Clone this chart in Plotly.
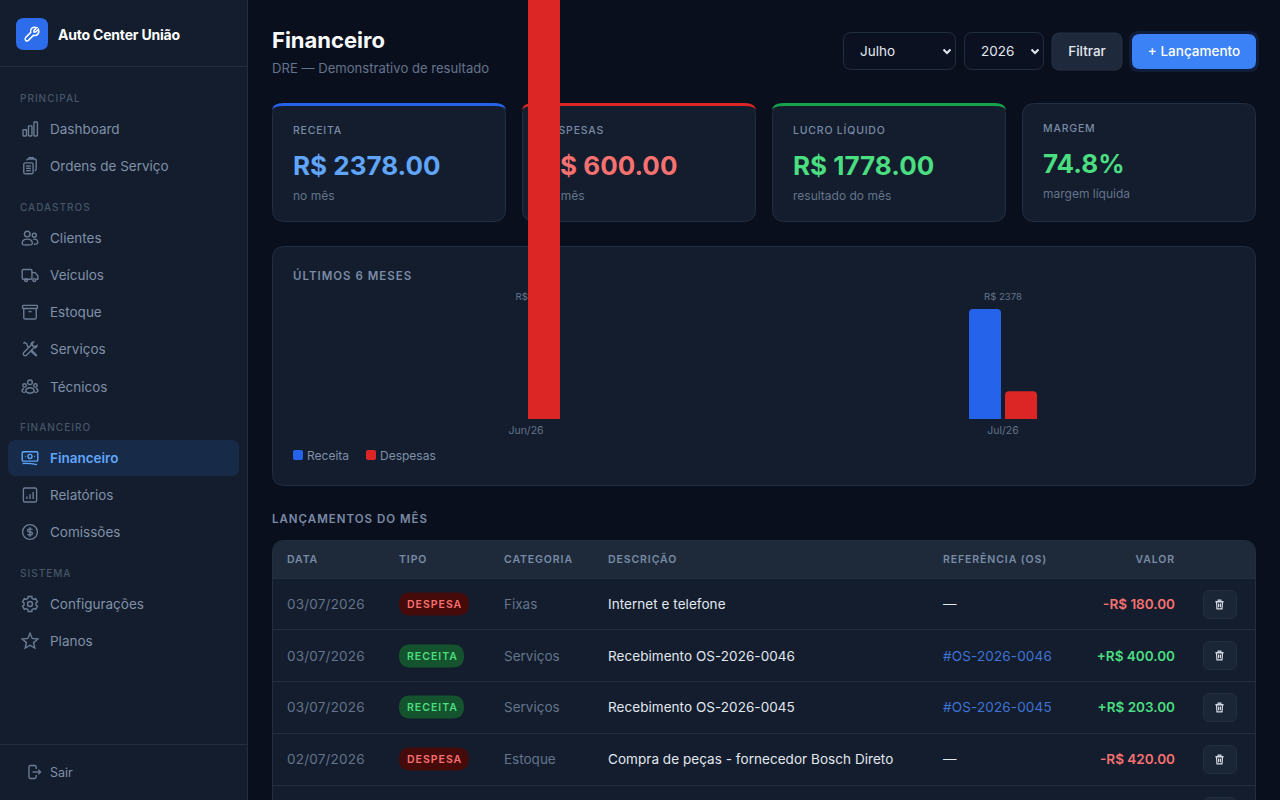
import math
import re
import plotly.graph_objects as go

# dados do grafico
meses = ["Jun/26", "Jul/26"]
receita = [0, 2378]
despesas = [9800, 600]

# cards
card_labels = ["RECEITA", "DESPESAS", "LUCRO LÍQUIDO", "MARGEM"]
card_values = ["R$ 2378.00", "R$ 600.00", "R$ 1778.00", "74.8%"]
card_notes = ["no mês", "no mês", "resultado do mês", "margem líquida"]

# tabela
colunas = ["DATA", "TIPO", "CATEGORIA", "DESCRIÇÃO", "REFERÊNCIA (OS)"]
datas = ["03/07/2026", "03/07/2026", "03/07/2026", "02/07/2026"]
tipos = ["DESPESA", "RECEITA", "RECEITA", "DESPESA"]
categorias = ["Fixas", "Serviços", "Serviços", "Estoque"]
descricoes = ["Internet e telefone", "Recebimento OS-2026-0046", "Recebimento OS-2026-0045",
              "Compra de peças - fornecedor Bosch Direto"]
referencias = ["—", "#OS-2026-0046", "#OS-2026-0045", "—"]
valores = ["-R$ 180.00", "+R$ 400.00", "+R$ 203.00", "-R$ 420.00"]

# menu lateral
menu_secoes = ["PRINCIPAL", "CADASTROS", "FINANCEIRO", "SISTEMA"]
menu_itens = ["Dashboard", "Ordens de Serviço", "Clientes", "Veículos", "Estoque", "Serviços",
              "Técnicos", "Financeiro", "Relatórios", "Comissões", "Configurações", "Planos"]

# cores
BG = "#0a0f1e"
CARD = "#131d2d"
BORDER = "#222e41"
MUTED = "#64748b"
SIDE_TXT = "#8090a8"
BLUE = "#2563eb"
RED = "#dc2626"
GREEN_TXT = "#4ade80"
RED_TXT = "#f87171"
BLUE_TXT = "#60a5fa"
FONT = "Inter"

shapes = []
textos = []


def rrect(x0, y0, x1, y1, r):
    return (f"M{x0+r} {y0} L{x1-r} {y0} Q{x1} {y0} {x1} {y0+r} L{x1} {y1-r} Q{x1} {y1} {x1-r} {y1} "
            f"L{x0+r} {y1} Q{x0} {y1} {x0} {y1-r} L{x0} {y0+r} Q{x0} {y0} {x0+r} {y0} Z")


def circ(cx, cy, r):
    k = 0.5523 * r
    return (f"M{cx-r} {cy} C{cx-r} {cy-k} {cx-k} {cy-r} {cx} {cy-r} C{cx+k} {cy-r} {cx+r} {cy-k} {cx+r} {cy} "
            f"C{cx+r} {cy+k} {cx+k} {cy+r} {cx} {cy+r} C{cx-k} {cy+r} {cx-r} {cy+k} {cx-r} {cy} Z")


def box(x0, y0, x1, y1, r=0, fill=None, line=None, width=1):
    shapes.append(dict(type="path", path=rrect(x0, y0, x1, y1, r), xref="x", yref="y", layer="below",
                       fillcolor=fill or "rgba(0,0,0,0)",
                       line=dict(color=line or "rgba(0,0,0,0)", width=width if line else 0)))


def hline(x0, x1, y, color=BORDER):
    shapes.append(dict(type="line", x0=x0, x1=x1, y0=y, y1=y, xref="x", yref="y", layer="below",
                       line=dict(color=color, width=1)))


def txt(x, y, s, size=13.5, color="#e2e8f0", weight=400, pos="middle right", spacing=0, family=FONT):
    if spacing:
        s = f'<span style="letter-spacing:{spacing}px">{s}</span>'
    # o texto do plotly fica um pouco acima do centro
    textos.append(go.Scatter(x=[x], y=[y + 0.11 * size], text=[s], mode="text", textposition=pos, hoverinfo="skip",
                             textfont=dict(family=family, size=size, color=color, weight=weight),
                             xaxis="x", yaxis="y", showlegend=False))


def icon(partes, cx, cy, color, scale=0.78, width=1.4, fill=None):
    # desenha os caminhos em grade 24x24 centrados em cx, cy
    def conv(path):
        toks = re.findall(r"[A-Za-z]|-?\d+\.?\d*", path)
        out = []
        i = 0
        for t in toks:
            if t.isalpha():
                out.append(t)
                i = 0
            else:
                base = cx if i % 2 == 0 else cy
                out.append(f"{base + (float(t) - 12) * scale:.2f}")
                i += 1
        return " ".join(out)
    for p in partes:
        shapes.append(dict(type="path", path=conv(p), xref="x", yref="y", layer="below",
                           fillcolor=fill or "rgba(0,0,0,0)", line=dict(color=color, width=width)))


def estrela():
    pts = []
    for i in range(10):
        r = 10.5 if i % 2 == 0 else 4.8
        a = -math.pi / 2 + i * math.pi / 5
        pts.append((12 + r * math.cos(a), 12.6 + r * math.sin(a)))
    return "M" + " L".join(f"{x:.2f} {y:.2f}" for x, y in pts) + " Z"


def engrenagem():
    pts = []
    for i in range(6):
        a = i * math.pi / 3 - math.pi / 2
        for da, r in [(-0.34, 7.8), (-0.24, 10), (0.24, 10), (0.34, 7.8)]:
            pts.append((12 + r * math.cos(a + da), 12 + r * math.sin(a + da)))
    return "M" + " L".join(f"{x:.2f} {y:.2f}" for x, y in pts) + " Z"


ICONES = {
    "Dashboard": [rrect(3, 13, 7.5, 21, 1), rrect(10, 8, 14.5, 21, 1), rrect(17, 3, 21.5, 21, 1)],
    "Ordens de Serviço": [rrect(4, 8, 16, 22, 2), "M8 5 Q8 3 10 3 L18 3 Q20 3 20 5 L20 16 Q20 18 18 18",
                          "M11 3 L11 1.5 L16 1.5 L16 3", "M7 12 L13 12", "M7 15 L13 15", "M7 18 L13 18"],
    "Clientes": [circ(8.5, 7, 3.6), circ(17.5, 8.5, 2.6),
                 "M2 19 Q2 13.5 8.5 13.5 Q15 13.5 15 19 Q15 21 8.5 21 Q2 21 2 19 Z",
                 "M16 13.5 Q22 13 22 17.5 Q22 20 17 20"],
    "Veículos": [rrect(2, 5, 14.5, 17.5, 1.5), "M14.5 9 L18.5 9 L22 13 L22 17.5 L20 17.5",
                 circ(7, 18.5, 1.9), circ(17.5, 18.5, 1.9)],
    "Estoque": [rrect(2.5, 3.5, 21.5, 7.5, 1), "M4 7.5 L4 19 Q4 21 6 21 L18 21 Q20 21 20 19 L20 7.5",
                "M10 11.5 L14 11.5"],
    "Serviços": ["M16.5 3 Q13 3.5 13.5 7 L4 16.5 Q2.5 18 4 20 Q6 21.5 7.5 20 L17 10.5 Q20.5 11 21 7.5 L18.5 9 L15.5 8 L15 5.5 Z",
                 "M3.5 5 L5 3.5 L8 5.5 L8.5 8 L11 10.5", "M13.5 13 L20 19.5 Q21 21 19.5 20.5 L13 15"],
    "Técnicos": [circ(12, 6, 3), circ(5, 10, 2.2), circ(19, 10, 2.2),
                 "M6.5 18 Q6.5 13 12 13 Q17.5 13 17.5 18 Q12 22 6.5 18 Z",
                 "M4.5 14 Q1.5 14.5 2 17.5 Q3 19 5.5 19", "M19.5 14 Q22.5 14.5 22 17.5 Q21 19 18.5 19"],
    "Financeiro": [rrect(2, 4, 22, 16, 1.5), circ(12, 10, 2.6), "M2.5 19 Q12 18.5 21 20.5",
                   "M5.5 10 L6.5 10", "M17.5 10 L18.5 10"],
    "Relatórios": [rrect(3.5, 3, 20.5, 21, 2), "M8 17 L8 14", "M12 17 L12 11", "M16 17 L16 8"],
    "Comissões": [circ(12, 12, 9.5), "M12 6 L12 18",
                  "M15 9.5 Q14.5 8 12 8 Q9 8 9 10 Q9 12 12 12 Q15 12 15 14 Q15 16 12 16 Q9.5 16 9 14.5"],
    "Configurações": [engrenagem(), circ(12, 12, 3.2)],
    "Planos": [estrela()],
}
ICONE_SAIR = ["M15 8 L15 5 Q15 3 13 3 L7 3 Q5 3 5 5 L5 19 Q5 21 7 21 L13 21 Q15 21 15 19 L15 16",
              "M10 12 L21 12", "M18 9 L21 12 L18 15"]
ICONE_LOGO = ["M20 6 L16.5 9.5 L14.5 9.5 L14.5 7.5 L18 4 Q14 2.5 11.5 5 Q9.5 7.5 10.5 10 L4 16.5 Q2.5 18.5 4 20 Q5.5 21.5 7.5 20 L14 13.5 Q17 14.5 19 12.5 Q21.5 10 20 6 Z"]
ICONE_LIXO = ["M3 6 L21 6", "M9 6 L9 2.5 L15 2.5 L15 6", "M5.5 6 L6.5 21.5 L17.5 21.5 L18.5 6 Z",
              "M10 10 L10 18", "M14 10 L14 18"]

# --- sidebar ---
box(0, -2, 247, 802, fill=CARD)
shapes.append(dict(type="line", x0=247.5, x1=247.5, y0=0, y1=800, xref="x", yref="y", layer="below",
                   line=dict(color=BORDER, width=1)))
hline(0, 247, 66.5)
hline(0, 247, 744.5)
box(16, 18, 48, 50, 8, fill="#2d6cea")
icon(ICONE_LOGO, 32, 34, "#ffffff", scale=0.8, width=1.5)
txt(58, 35, "Auto Center União", 14, "#ffffff", 700, spacing=-0.2)

for nome, y in zip(menu_secoes, [98, 207, 427, 573]):
    txt(20, y, nome, 10, "#475569", 500, spacing=1)

box(8, 440, 239, 476, 8, fill="#172b49")
for nome, y in zip(menu_itens, [129, 166, 238, 275, 312, 349, 387, 458, 495, 532, 604, 641]):
    ativo = nome == "Financeiro"
    cor = BLUE_TXT if ativo else SIDE_TXT
    icon(ICONES[nome], 30, y, BLUE_TXT if ativo else "#6b7b93")
    txt(50, y, nome, 13.5, cor, 600 if ativo else 400)
icon(ICONE_SAIR, 34, 772, "#6b7b93", scale=0.72)
txt(50, 772, "Sair", 12.5, SIDE_TXT)

# --- cabecalho ---
txt(272, 40, "Financeiro", 22, "#f8fafc", 700)
txt(272, 68, "DRE — Demonstrativo de resultado", 13.1, MUTED)

box(843.5, 32.5, 955.5, 69.5, 8, fill="#0b1120", line=BORDER)
box(964.5, 32.5, 1043.5, 69.5, 8, fill="#0b1120", line=BORDER)
txt(860, 51, "Julho", 13.5, "#e2e8f0")
txt(981, 51, "2026", 13.5, "#e2e8f0")
for cx in (947, 1035):
    shapes.append(dict(type="path", path=f"M{cx-3.5} 49.5 L{cx} 53 L{cx+3.5} 49.5", xref="x", yref="y",
                       layer="below", line=dict(color="#e2e8f0", width=2)))
box(1052, 33, 1122, 70, 8, fill="#1e293b", line="#263347")
txt(1087, 51, "Filtrar", 13.5, "#e2e8f0", 500, pos="middle center")
box(1129, 31, 1259, 72, 10, fill="rgba(59,130,246,0.14)")
box(1132, 34, 1256, 69, 8, fill="#3b82f6")
txt(1194, 51, "+ Lançamento", 13.5, "#ffffff", 500, pos="middle center")

# --- cards ---
card_x = [273, 523, 773, 1023]
card_topo = [BLUE, RED, "#16a34a", None]
card_cor = [BLUE_TXT, RED_TXT, GREEN_TXT, GREEN_TXT]
for i, x in enumerate(card_x):
    box(x - 0.5, 103.5, x + 232.5, 221.5, 12, fill=CARD, line=BORDER)
    dy = 0
    if card_topo[i]:
        x0, x1 = x - 1, x + 233
        shapes.append(dict(type="path", xref="x", yref="y", layer="below", fillcolor=card_topo[i],
                           line=dict(width=0),
                           path=f"M{x0} 111 Q{x0} 103 {x0+12} 103 L{x1-12} 103 Q{x1} 103 {x1} 111 "
                                f"Q{x1} 106 {x1-12} 106 L{x0+12} 106 Q{x0} 106 {x0} 111 Z"))
    else:
        dy = -2
    txt(x + 20, 130 + dy, card_labels[i], 10.5, "#7a8ba5", 500, spacing=0.8)
    txt(x + 20, 166 + dy, card_values[i], 26, card_cor[i], 700)
    txt(x + 20, 196 + dy, card_notes[i], 12, MUTED)

# --- card do grafico ---
box(272.5, 246.5, 1255.5, 485.5, 12, fill=CARD, line=BORDER)
txt(293, 276, "ÚLTIMOS 6 MESES", 11.5, "#7a8ba5", 600, spacing=1)
box(293, 450, 303, 460, 2, fill=BLUE)
txt(307, 455.5, "Receita", 12, SIDE_TXT)
box(366, 450, 376, 460, 2, fill=RED)
txt(380, 455.5, "Despesas", 12, SIDE_TXT)

# --- tabela ---
txt(272, 519, "LANÇAMENTOS DO MÊS", 11.5, "#7a8ba5", 600, spacing=1)
box(272.5, 540.5, 1255.5, 830, 12, fill=CARD, line=BORDER)
shapes.append(dict(type="path", xref="x", yref="y", layer="below", fillcolor="#1e2a3a", line=dict(width=0),
                   path="M273 578 L273 553 Q273 541 285 541 L1243 541 Q1255 541 1255 553 L1255 578 Z"))
for y in (578.5, 629.5, 681.5, 733.5, 785.5):
    hline(273, 1255, y)
for nome, x in zip(colunas, [287, 399, 504, 608, 943]):
    txt(x, 559, nome, 10.5, "#7a8ba5", 600, spacing=0.9)
txt(1175, 559, "VALOR", 10.5, "#7a8ba5", 600, pos="middle left", spacing=0.9)

linhas_y = [604, 656, 707, 759]
botoes_y = [590, 641, 693, 745, 797]
for i, y in enumerate(linhas_y):
    despesa = tipos[i] == "DESPESA"
    txt(287, y, datas[i], 13.5, MUTED, spacing=0.2)
    bw = 70 if despesa else 65
    box(399, y - 11.5, 399 + bw, y + 11.5, 11.5, fill="#450a0a" if despesa else "#14532d")
    txt(407, y, tipos[i], 10.5, RED_TXT if despesa else GREEN_TXT, 600, spacing=1)
    txt(504, y, categorias[i], 13.5, MUTED)
    txt(608, y, descricoes[i], 13.5, spacing=0.05)
    link = referencias[i].startswith("#")
    txt(943, y, referencias[i], 13.5, "#3f74d8" if link else "#e2e8f0", spacing=0.15 if link else 0)
    txt(1175, y, valores[i], 13.5, RED_TXT if despesa else GREEN_TXT, 600, pos="middle left")
for y in botoes_y:
    box(1203.5, y + 0.5, 1236.5, y + 28.5, 6, fill="#1a2535", line="#222e41")
    icon(ICONE_LIXO, 1219.5, y + 14.5, "#d5dbe5", scale=0.46, width=1.2)

# --- barras ---
# jul/26 receita vai de y=419 ate y=309 na tela
base_px, topo_px = 419, 309
centro_jun, centro_jul = 526, 1003
passo = centro_jul - centro_jun
x_dom = [(centro_jun - passo / 2) / 1280, (centro_jul + passo / 2) / 1280]
eixo_max = receita[1]
px_valor = eixo_max / (base_px - topo_px)

barras = [
    go.Bar(x=meses, y=receita, name="Receita", marker=dict(color=BLUE, cornerradius=4, line_width=0),
           xaxis="x3", yaxis="y3", hoverinfo="skip"),
    go.Bar(x=meses, y=despesas, name="Despesas", marker=dict(color=RED, cornerradius=4, line_width=0),
           xaxis="x3", yaxis="y3", hoverinfo="skip"),
]
# rotulos ficam numa camada abaixo das barras
rotulo_y = px_valor * (base_px - 298)
rotulos = go.Scatter(x=meses, y=[rotulo_y] * len(meses), text=[f"R$ {v}" for v in receita], mode="text",
                     textposition="middle center", hoverinfo="skip", xaxis="x2", yaxis="y2",
                     textfont=dict(family=FONT, size=9.6, color=MUTED), showlegend=False)

fig = go.Figure(data=textos + [rotulos] + barras)

eixo_cat = dict(domain=x_dom, type="category", categoryorder="array", categoryarray=meses, range=[-0.5, 1.5],
                showgrid=False, zeroline=False, showline=False, ticks="", fixedrange=True)
# o eixo de valores vai ate o topo da pagina: a barra de jun/26 passa do cartao
eixo_val = dict(domain=[1 - base_px / 800, 1], range=[0, px_valor * base_px], visible=False, fixedrange=True,
                showgrid=False, zeroline=False)

fig.update_layout(
    width=1280, height=800, margin=dict(l=0, r=0, t=0, b=0, pad=0),
    paper_bgcolor=BG, plot_bgcolor="rgba(0,0,0,0)", showlegend=False, hovermode=False,
    font=dict(family=FONT),
    barmode="group", bargap=1 - 72 / passo, bargroupgap=1 / 9,
    shapes=shapes,
    xaxis=dict(domain=[0, 1], range=[0, 1280], visible=False, fixedrange=True),
    yaxis=dict(domain=[0, 1], range=[800, 0], visible=False, fixedrange=True),
    xaxis2=dict(eixo_cat, anchor="y2", visible=False),
    yaxis2=dict(eixo_val, anchor="x2"),
    xaxis3=dict(eixo_cat, anchor="y3", tickfont=dict(family=FONT, size=10.5, color=MUTED), ticklabelstandoff=3),
    yaxis3=dict(eixo_val, anchor="x3"),
)

fig.write_html("out.html", config={"displayModeBar": False},
               post_script="document.body.style.margin='0';document.body.style.overflow='hidden';"
                           "document.body.style.background='" + BG + "';")
